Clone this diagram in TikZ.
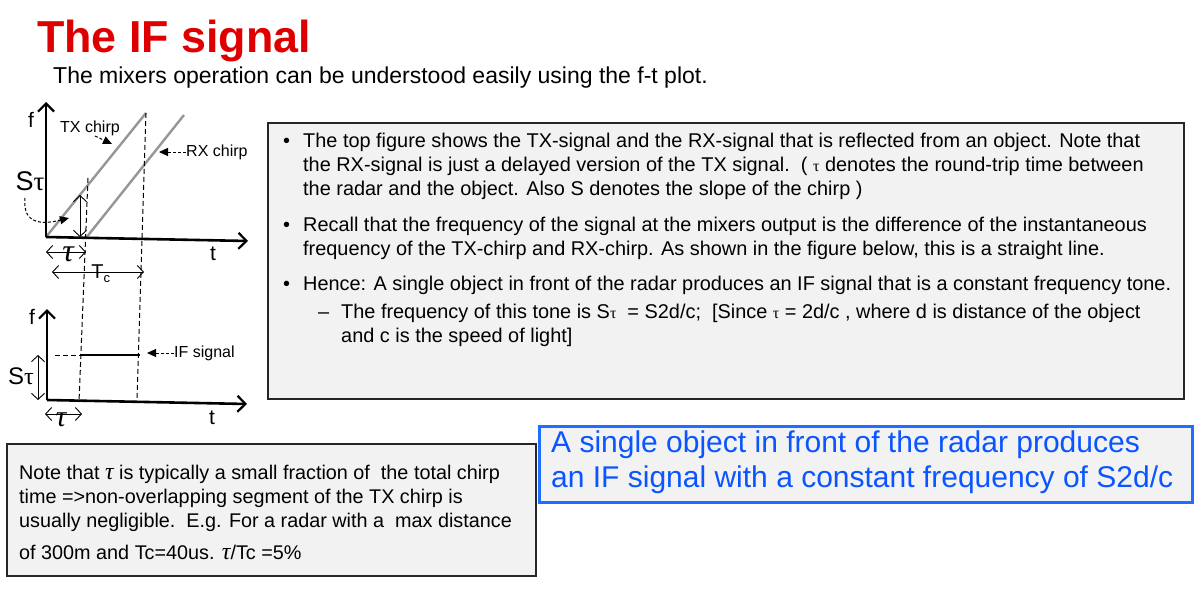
\documentclass[tikz,border=0pt]{standalone}
\usepackage{fontspec}
\setmainfont{Liberation Sans}
\newfontfamily\grk{Liberation Serif}
\usetikzlibrary{arrows.meta}
\definecolor{titlered}{RGB}{222,0,0}
\definecolor{boxgray}{RGB}{242,242,242}
\definecolor{boxblue}{RGB}{30,110,255}
\definecolor{textblue}{RGB}{10,85,255}
\definecolor{chirpgray}{RGB}{150,150,150}
\newcommand{\itau}{{\grk\itshape τ}}
\begin{document}
\begin{tikzpicture}[x=1pt,y=-1pt,
  txt/.style={anchor=base west,inner sep=0},
  body/.style={txt,font=\fontsize{19.9}{24}\selectfont},
  note/.style={txt,font=\fontsize{19.8}{24}\selectfont},
  blue/.style={txt,font=\fontsize{30}{34}\selectfont,text=textblue},
  lbl/.style={inner sep=0,font=\fontsize{16}{18}\selectfont},
  axlbl/.style={inner sep=0,font=\fontsize{21}{22}\selectfont},
  axis/.style={line width=2.6,-{Straight Barb[length=8,width=16,line width=2.2]}},
  chirp/.style={line width=2.4,chirpgray},
  dimarrow/.style={line width=0.9,{Straight Barb[length=6,width=13]}-{Straight Barb[length=6,width=13]}},
  guide/.style={line width=1,dashed,dash pattern=on 5pt off 3pt},
  pointer/.style={line width=1,dash pattern=on 3pt off 2pt,-{Triangle[length=9,width=8]}},
  panel/.style={draw=black!85,line width=2,fill=boxgray,anchor=north west,inner sep=0}
]
\useasboundingbox (0,0) rectangle (1196,591);

% Title
\node[txt,font=\fontsize{44.8}{46}\selectfont\bfseries,text=titlered] (title) at (37,53) {The IF signal};
\node[txt,font=\fontsize{23}{26}\selectfont] (subtitle) at (53,84) {The mixers operation can be understood easily using the f-t plot.};

% ---------- top plot ----------
\coordinate (O1) at (46,237);
\coordinate (Y1) at (46,102);
\coordinate (X1) at (248,241);
\coordinate (TXa) at (46,237);
\coordinate (TXb) at (146,113);
\coordinate (RXa) at (86,238);
\coordinate (RXb) at (184,115);
\draw[chirp] (TXa) -- (TXb);
\draw[chirp] (RXa) -- (RXb);
\draw[axis] (O1) -- (Y1);
\draw[axis] (O1) -- (X1);
\node[axlbl] (f1) at (31,120) {f};
\node[axlbl] (t1) at (213,254) {t};

% dashed verticals through both plots
\coordinate (D1a) at (88,178);
\coordinate (D1b) at (79,402);
\coordinate (D2a) at (146,113);
\coordinate (D2b) at (137,400);
\draw[guide] (D1a) -- (D1b);
\draw[guide] (D2a) -- (D2b);

% S tau in top plot
\coordinate (St1a) at (80,195);
\coordinate (St1b) at (80,237);
\draw[dimarrow] (St1a) -- (St1b);
\node[inner sep=0,font=\fontsize{27}{28}\selectfont] (Stau1) at (30,181) {S{\grk τ}};
\coordinate (cs) at (25,198);
\coordinate (ce) at (69,218);
\draw[pointer] (cs) .. controls (22,226) and (45,224) .. (ce);

% chirp labels
\node[lbl,anchor=west] (txlbl) at (60,128) {TX chirp};
\coordinate (txp1) at (95,136);
\coordinate (txp2) at (112,144);
\draw[pointer] (txp1) -- (txp2);
\node[lbl,anchor=west] (rxlbl) at (186,152) {RX chirp};
\coordinate (rxp) at (159,152);
\draw[pointer] (rxlbl.west) -- (rxp);

% tau and Tc
\coordinate (ta1) at (46,252);
\coordinate (tb1) at (86,252);
\draw[dimarrow] (ta1) -- (tb1);
\node[inner sep=0,font=\fontsize{32}{32}\selectfont] (tau1) at (68,254) {\itau};
\coordinate (Tca) at (52,272);
\coordinate (Tcb) at (144,272);
\draw[dimarrow] (Tca) -- (Tcb);
\node[inner sep=0,font=\fontsize{20}{20}\selectfont,anchor=north] (Tc) at (101,265) {T\textsubscript{\fontsize{13}{13}\selectfont c}};

% ---------- bottom plot ----------
\coordinate (O2) at (47,400);
\coordinate (Y2) at (47,309);
\coordinate (X2) at (247,404);
\draw[axis] (O2) -- (Y2);
\draw[axis] (O2) -- (X2);
\node[axlbl] (f2) at (32,317) {f};
\node[axlbl] (t2) at (212,418) {t};
\coordinate (IFa) at (80,355);
\coordinate (IFb) at (140,355);
\coordinate (IFl) at (55,355);
\draw[line width=2.4] (IFa) -- (IFb);
\draw[guide] (IFl) -- (IFa);
\node[lbl,anchor=west] (iflbl) at (174,353) {IF signal};
\coordinate (ifp) at (147,353);
\draw[pointer] (iflbl.west) -- (ifp);
\coordinate (St2a) at (38,355);
\coordinate (St2b) at (38,400);
\draw[dimarrow] (St2a) -- (St2b);
\node[inner sep=0,font=\fontsize{24}{26}\selectfont] (Stau2) at (21,376) {S{\grk τ}};
\coordinate (ta2) at (45,414);
\coordinate (tb2) at (82,414);
\draw[dimarrow] (ta2) -- (tb2);
\node[inner sep=0,font=\fontsize{30}{30}\selectfont] (tau2) at (61,420) {\itau};

% ---------- main text panel ----------
\node[panel,minimum width=916,minimum height=276] (mainbox) at (267,122) {};
\node[body] (b1) at (283,147) {•};
\node[body] (l1) at (303,147) {The top figure shows the TX-signal and the RX-signal that is reflected from an object. Note that};
\node[body] (l2) at (303,171) {the RX-signal is just a delayed version of the TX signal.\ \ ( {\grk\fontsize{16}{18}\selectfont τ} denotes the round-trip time between};
\node[body] (l3) at (303,195) {the radar and the object. Also S denotes the slope of the chirp )};
\node[body] (b2) at (283,231) {•};
\node[body] (l4) at (303,231) {Recall that the frequency of the signal at the mixers output is the difference of the instantaneous};
\node[body] (l5) at (303,255) {frequency of the TX-chirp and RX-chirp. As shown in the figure below, this is a straight line.};
\node[body] (b3) at (283,290) {•};
\node[body] (l6) at (303,290) {Hence: A single object in front of the radar produces an IF signal that is a constant frequency tone.};
\node[body] (d1) at (318,318) {–};
\node[body] (l7) at (341,318) {The frequency of this tone is S{\grk\fontsize{16}{18}\selectfont τ}\ \ = S2d/c;\ \ [Since {\grk\fontsize{16}{18}\selectfont τ} = 2d/c , where d is distance of the object};
\node[body] (l8) at (341,342) {and c is the speed of light]};

% ---------- note panel ----------
\node[panel,minimum width=529,minimum height=132] (notebox) at (6,443) {};
\node[note] (n1) at (19,479) {Note that {\fontsize{24}{24}\selectfont\itau} is typically a small fraction of\ \ the total chirp};
\node[note] (n2) at (19,503) {time =>non-overlapping segment of the TX chirp is};
\node[note] (n3) at (19,527) {usually negligible.\ \ E.g. For a radar with a\ \ max distance};
\node[note] (n4) at (19,559) {of 300m and Tc=40us. {\fontsize{24}{24}\selectfont\itau}/Tc =5\%};

% ---------- blue panel ----------
\node[draw=boxblue,line width=3,fill=boxgray,anchor=north west,inner sep=0,minimum width=653,minimum height=76] (bluebox) at (538,425) {};
\node[blue] (bl1) at (551,452) {A single object in front of the radar produces};
\node[blue] (bl2) at (551,487) {an IF signal with a constant frequency of S2d/c};
\end{tikzpicture}
\end{document}
